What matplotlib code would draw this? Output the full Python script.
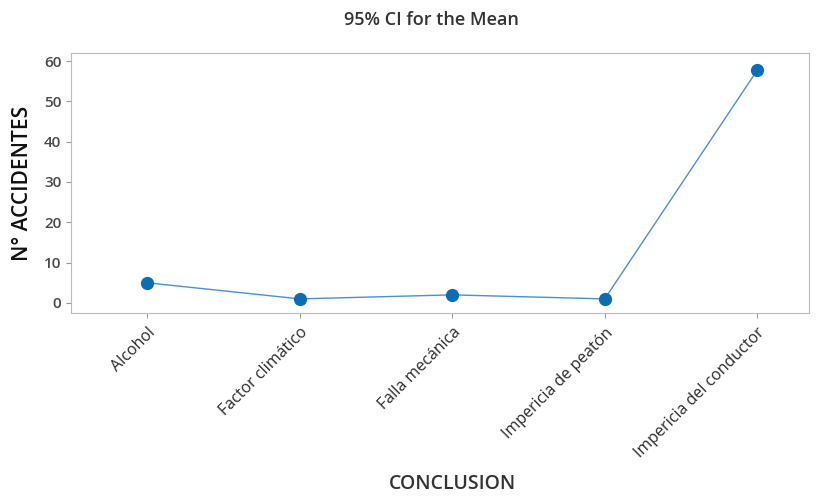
import numpy as np
import matplotlib
matplotlib.use('Agg')
import matplotlib.pyplot as plt

plt.rcParams['font.family'] = ['Open Sans', 'DejaVu Sans']

categories = ['Alcohol', 'Factor climático', 'Falla mecánica',
              'Impericia de peatón', 'Impericia del conductor']
means = [5.0, 1.0, 2.0, 1.0, 57.7]
yticks = [0, 10, 20, 30, 40, 50, 60]

fig = plt.figure(figsize=(8.26, 4.98), dpi=100)
ax = fig.add_axes([71 / 826, 1 - 313 / 498, (809 - 71) / 826, (313 - 53) / 498])

x = np.arange(len(categories))
ax.plot(x, means, color='#4a8fd8', lw=1.0, zorder=2)
ax.plot(x, means, 'o', color='#0b6db4', ms=8.5, zorder=3)

ax.set_xlim(-0.5, 4.34)
ax.set_ylim(-2.5, 62)
ax.set_yticks(yticks)
ax.set_xticks(x)
ax.set_xticklabels(categories, rotation=45, ha='right', rotation_mode='anchor',
                   fontsize=11.5, color='#2a2a2a')
ax.tick_params(axis='y', labelsize=11, labelcolor='#4a4a4a', color='#999999')
ax.tick_params(axis='x', color='#999999', pad=5)
for t in ax.get_yticklabels():
    t.set_fontweight('semibold')
for s in ax.spines.values():
    s.set_color('#bbbbbb')

ax.set_ylabel('N° ACCIDENTES', fontsize=15, color='#111111', labelpad=8,
              fontweight='semibold')
fig.text(452 / 826, 1 - 484 / 498, 'CONCLUSION', ha='center', va='center',
         fontsize=14, color='#333333', fontweight='semibold')
fig.text(431 / 826, 1 - 20 / 498, '95% CI for the Mean', ha='center', va='center',
         fontsize=13, color='#333333', fontweight='semibold')

fig.savefig('out.png', dpi=100)
print('done')
